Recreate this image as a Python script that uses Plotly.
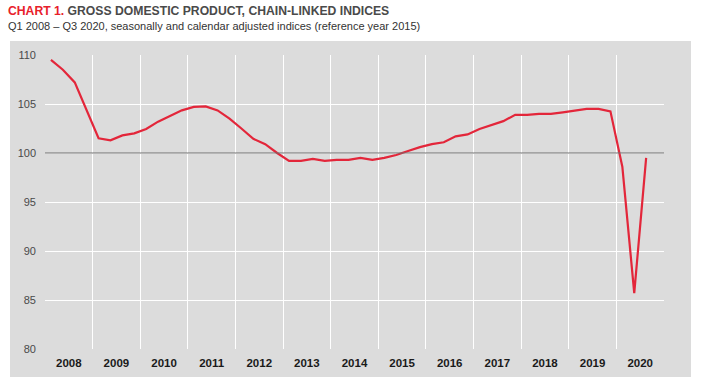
import plotly.graph_objects as go

years = ["2008", "2009", "2010", "2011", "2012", "2013", "2014",
         "2015", "2016", "2017", "2018", "2019", "2020"]

gdp_index = [
    109.5, 108.5, 107.2, 104.4,   # 2008
    101.5, 101.3, 101.8, 102.0,   # 2009
    102.45, 103.2, 103.75, 104.35,  # 2010
    104.7, 104.75, 104.35, 103.5,   # 2011
    102.5, 101.45, 100.9, 100.0,   # 2012
    99.2, 99.2, 99.4, 99.2,        # 2013
    99.3, 99.3, 99.5, 99.3,        # 2014
    99.5, 99.8, 100.2, 100.6,      # 2015
    100.9, 101.1, 101.7, 101.9,    # 2016
    102.45, 102.85, 103.25, 103.9,  # 2017
    103.9, 104.0, 104.0, 104.15,   # 2018
    104.3, 104.5, 104.5, 104.25,   # 2019
    98.6, 85.7, 99.5,              # 2020
]

y_ticks = [80, 85, 90, 95, 100, 105, 110]
reference_level = 100

# quarter positions (centre of each quarter slot)
x_pos = [i + 0.5 for i in range(len(gdp_index))]
year_centres = [4 * i + 2 for i in range(len(years))]
year_bounds = [4 * i for i in range(len(years) + 1)]

FONT = "Liberation Sans, Arial, sans-serif"
GREY_BG = "#dcdcdc"
RED = "#e3263a"

fig = go.Figure()
fig.add_trace(go.Scatter(
    x=x_pos, y=gdp_index, mode="lines",
    line=dict(color=RED, width=2.2),
    hoverinfo="skip", showlegend=False,
))

fig.add_hline(y=reference_level, line=dict(color="#6e6e6e", width=1))

W, H = 701, 384
L, R, T, B = 45, 37, 55, 35
pw, ph = W - L - R, H - T - B

def px_x(px):
    return (px - L) / pw

def px_y(py):
    return (H - B - py) / ph

# grey panel behind the chart
fig.add_shape(type="rect", xref="paper", yref="paper",
              x0=px_x(10), x1=px_x(691), y0=px_y(377), y1=px_y(41),
              fillcolor=GREY_BG, line=dict(width=0), layer="below")

fig.update_layout(
    width=W, height=H,
    margin=dict(l=L, r=R, t=T, b=B),
    paper_bgcolor="white",
    plot_bgcolor=GREY_BG,
    font=dict(family=FONT, size=11, color="#444"),
    xaxis=dict(
        range=[0, 52],
        tickvals=year_centres, ticktext=years,
        tickfont=dict(family=FONT, size=11.5, color="#1a1a1a", weight="bold"),
        showgrid=False, zeroline=False, showline=False, ticks="",
        ticklabelstandoff=5,
        minor=dict(tickvals=year_bounds, showgrid=True, gridcolor="white", gridwidth=1, ticks=""),
        fixedrange=True,
    ),
    yaxis=dict(
        range=[80, 110],
        tickvals=y_ticks,
        tickfont=dict(family=FONT, size=11, color="#4a4a4a"),
        showgrid=True, gridcolor="white", gridwidth=1,
        zeroline=False, showline=False, ticks="", ticklabelstandoff=8,
        fixedrange=True,
    ),
    annotations=[
        dict(xref="paper", yref="paper", x=px_x(6), y=px_y(11),
             xanchor="left", yanchor="middle", showarrow=False,
             text="<b><span style='color:#e8202a'>CHART 1.</span> GROSS DOMESTIC PRODUCT, CHAIN-LINKED INDICES</b>",
             font=dict(family=FONT, size=12.2, color="#4a4a4a")),
        dict(xref="paper", yref="paper", x=px_x(6), y=px_y(26),
             xanchor="left", yanchor="middle", showarrow=False,
             text="Q1 2008 \u2013 Q3 2020, seasonally and calendar adjusted indices (reference year 2015)",
             font=dict(family=FONT, size=11, color="#333")),
    ],
)

fig.write_html("out.html", config={"displayModeBar": False},
               post_script="document.body.style.margin='0';")
